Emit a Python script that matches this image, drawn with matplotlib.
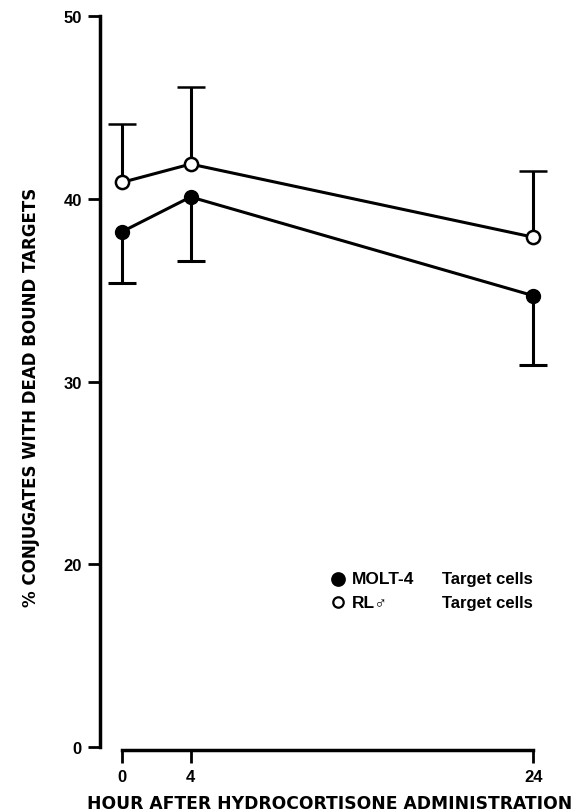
import matplotlib
matplotlib.use('Agg')
import matplotlib.pyplot as plt

plt.rcParams['font.family'] = ['Liberation Sans', 'DejaVu Sans']
plt.rcParams['font.weight'] = 'bold'
plt.rcParams['axes.labelweight'] = 'bold'

hours = [0, 4, 24]
molt4 = [38.2, 40.1, 34.7]      # закрашенные точки
molt4_err = [2.8, 3.5, 3.8]     # ошибка только вниз
rlo = [40.9, 41.9, 37.9]        # пустые точки
rlo_err = [3.2, 4.2, 3.6]       # ошибка только вверх

yticks = [10, 20, 30, 40, 50]
ytick_labels = ['0', '20', '30', '40', '50']  # ось с разрывом: нижний тик подписан 0
xticks = [0, 4, 24]
zeros = [0, 0, 0]

fig = plt.figure(figsize=(5.73, 8.12), dpi=100)
ax = fig.add_axes([0.1745, 0.0788, 0.78, 0.9002])


def one_side(cont, yvals):
    # убираем засечку, которая совпала с самой точкой
    for cl in cont[1]:
        yd = list(cl.get_ydata())
        if all(abs(a - b) < 1e-9 for a, b in zip(yd, yvals)):
            cl.set_visible(False)


c1 = ax.errorbar(hours, molt4, yerr=[molt4_err, zeros], fmt='o-', color='black',
                 mfc='black', mec='black', ms=10, lw=2.2, elinewidth=2.2, capsize=10,
                 capthick=2.2, zorder=3)
one_side(c1, molt4)
c2 = ax.errorbar(hours, rlo, yerr=[zeros, rlo_err], fmt='o-', color='black',
                 mfc='white', mec='black', mew=1.8, ms=9.5, lw=2.2, elinewidth=2.2, capsize=10,
                 capthick=2.2, zorder=3)
one_side(c2, rlo)

ax.set_xlim(-1.29, 24.8)
ax.set_ylim(10, 50)
ax.set_yticks(yticks)
ax.set_yticklabels(ytick_labels)
ax.set_xticks(xticks)

for s in ['top', 'right']:
    ax.spines[s].set_visible(False)
ax.spines['left'].set_linewidth(2.5)
ax.spines['bottom'].set_linewidth(2.5)
ax.spines['bottom'].set_bounds(0, 24)
ax.spines['left'].set_bounds(10, 50)
ax.spines['bottom'].set_position(('outward', 2))
ax.tick_params(axis='both', width=2, length=9, labelsize=12)
ax.tick_params(axis='x', pad=5)
ax.tick_params(axis='y', pad=4)

ax.set_xlabel('HOUR AFTER HYDROCORTISONE ADMINISTRATION', fontsize=12.3,
              family='DejaVu Sans')
ax.xaxis.set_label_coords(0.513, -0.064)
ax.set_ylabel('% CONJUGATES WITH DEAD BOUND TARGETS', fontsize=12, family='DejaVu Sans')
ax.yaxis.set_label_coords(-0.135, 0.48)

# легенда вручную, чтобы "Target cells" стояли ровно друг под другом
leg_rows = [(0.230, 'black', 9, 'MOLT-4'), (0.198, 'white', 7.5, 'RL\u2642')]
for yy, fc, msz, name in leg_rows:
    ax.plot([0.532], [yy], 'o', ms=msz, mfc=fc, mec='black', mew=1.6, transform=ax.transAxes,
            clip_on=False)
    ax.text(0.564, yy, name, transform=ax.transAxes, fontsize=12.5, va='center', ha='left')
    ax.text(0.765, yy, 'Target cells', transform=ax.transAxes, fontsize=12, va='center',
            ha='left')

fig.savefig('out.png', dpi=100)
